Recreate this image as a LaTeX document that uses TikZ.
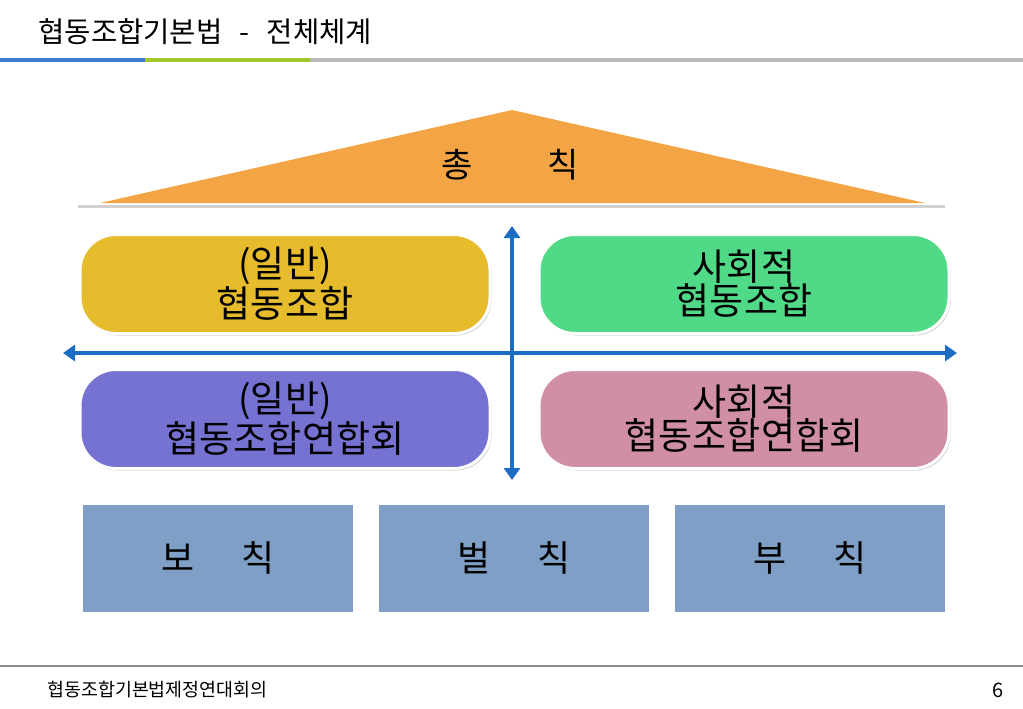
\documentclass[tikz,border=0pt]{standalone}
\usepackage{fontspec}
\setmainfont{Noto Sans CJK KR}
\usetikzlibrary{positioning,arrows.meta,shadows}

\definecolor{headblue}{HTML}{3A7DD3}
\definecolor{headgreen}{HTML}{A3C62B}
\definecolor{headgray}{HTML}{B8B8B8}
\definecolor{roofcolor}{HTML}{F3A546}
\definecolor{coopyellow}{HTML}{E6BB2C}
\definecolor{coopgreen}{HTML}{50DA88}
\definecolor{fedpurple}{HTML}{7672D2}
\definecolor{fedpink}{HTML}{D08FA4}
\definecolor{lawblue}{HTML}{7F9FC6}
\definecolor{axisblue}{HTML}{1A6DC2}

\begin{document}
\begin{tikzpicture}[x=0.5pt, y=-0.5pt,
    boxshadow/.style={drop shadow={shadow xshift=0.8pt, shadow yshift=-1pt, opacity=0.3, fill=black!60}},
    roundbox/.style={draw=white, line width=1.5pt, rounded corners=18pt, boxshadow,
        minimum width=205pt, minimum height=49.5pt, align=center,
        font=\fontsize{18.5}{17}\selectfont},
    lawbox/.style={draw=white, line width=1.5pt, fill=lawblue, boxshadow,
        minimum width=136.5pt, minimum height=55pt, font=\fontsize{18}{18}\selectfont},
    axis/.style={axisblue, line width=2pt, {Triangle[length=6pt,width=8pt]}-{Triangle[length=6pt,width=8pt]}}]

    \useasboundingbox (0,0) rectangle (1023,708);

    % title and header bar
    \node[anchor=west, inner sep=0pt, font=\fontsize{14.3}{16}\selectfont] (title) at (38,32) {협동조합기본법\hspace{0.6em}-\hspace{0.6em}전체체계};
    \draw[headblue, line width=2pt] (0,60) -- (145,60);
    \draw[headgreen, line width=2pt] (145,60) -- (310,60);
    \draw[headgray, line width=2pt] (310,60) -- (1023,60);

    % roof
    \draw[black!18, line width=1.5pt] (78,206) -- (945,206);
    \fill[roofcolor] (100,203) -- (512,110) -- (925,203) -- cycle;
    \node[font=\fontsize{17}{18}\selectfont] (general) at (510,165) {총\hspace{2.2em}칙};

    % cooperatives
    \node[roundbox, fill=coopyellow] (coop) at (285,284) {(일반)\\협동조합};
    \node[roundbox, fill=coopgreen] (social) [right=23pt of coop] {사회적\\협동조합};
    \node[roundbox, fill=fedpurple] (fed) [below=16.5pt of coop] {(일반)\\협동조합연합회};
    \node[roundbox, fill=fedpink] (socialfed) [below=16.5pt of social] {사회적\\협동조합연합회};

    % axes
    \coordinate (hleft) at (63,353);
    \coordinate (hright) at (957,353);
    \coordinate (vtop) at (512,226);
    \coordinate (vbottom) at (512,480);
    \draw[axis] (hleft) -- (hright);
    \draw[axis] (vtop) -- (vbottom);

    % supplementary parts
    \node[lawbox] (supp) at (218,558) {보\hspace{1.3em}칙};
    \node[lawbox] (penal) [right=10pt of supp] {벌\hspace{1.3em}칙};
    \node[lawbox] (addenda) [right=10pt of penal] {부\hspace{1.3em}칙};

    % footer
    \draw[black!45, line width=1pt] (0,666) -- (1023,666);
    \node[anchor=west, inner sep=0pt, font=\fontsize{9.2}{10}\selectfont] (footer) at (47,690) {협동조합기본법제정연대회의};
    \node[anchor=east, inner sep=0pt, font=\fontsize{10}{11}\selectfont] (page) at (1004,690) {6};

\end{tikzpicture}
\end{document}
